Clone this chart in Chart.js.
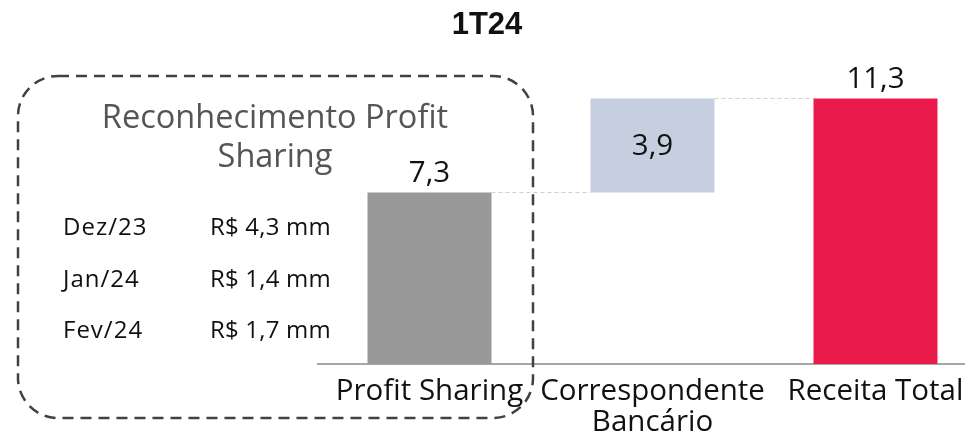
<!DOCTYPE html>
<html><head><meta charset="utf-8">
<script src="https://cdn.jsdelivr.net/npm/chart.js@4.4.1/dist/chart.umd.min.js"></script>
<style>html,body{margin:0;padding:0;background:#fff;overflow:hidden;width:965px;height:434px}#wrap{width:990px;height:434px}</style>
</head><body><div id="wrap"><canvas id="c" width="990" height="434"></canvas></div>
<script>
const chartTitle = '1T24';
const categories = ['Profit Sharing', ['Correspondente','Bancário'], 'Receita Total'];
const barBottoms = [0, 7.3, 0];
const barTops = [7.3, 11.3, 11.3];
const valueLabels = ['7,3', '3,9', '11,3'];
const barColors = ['#999999', '#C5CFE0', '#EA1B4B'];
const boxTitle = ['Reconhecimento Profit', 'Sharing'];
const boxMonths = ['Dez/23', 'Jan/24', 'Fev/24'];
const boxAmounts = ['R$ 4,3 mm', 'R$ 1,4 mm', 'R$ 1,7 mm'];
const FONT = "'Open Sans', sans-serif";

const overlay = {
  id: 'overlay',
  afterDatasetsDraw(chart) {
    const ctx = chart.ctx;
    const meta = chart.getDatasetMeta(0);
    const els = meta.data;
    ctx.save();
    // connectors
    ctx.strokeStyle = '#cfcfcf';
    ctx.lineWidth = 1;
    ctx.setLineDash([4, 3]);
    for (let i = 0; i < els.length - 1; i++) {
      const a = els[i], b = els[i + 1];
      ctx.beginPath();
      ctx.moveTo(a.x + a.width / 2, Math.round(a.y) + 0.5);
      ctx.lineTo(b.x - b.width / 2, Math.round(a.y) + 0.5);
      ctx.stroke();
    }
    ctx.setLineDash([]);
    // value labels
    ctx.fillStyle = '#111';
    ctx.font = '29.5px ' + FONT;
    ctx.textAlign = 'center';
    els.forEach((el, i) => {
      if (i === 1) {
        ctx.textBaseline = 'middle';
        ctx.fillText(valueLabels[i], el.x, (el.y + el.base) / 2 + 1);
      } else {
        ctx.textBaseline = 'alphabetic';
        ctx.fillText(valueLabels[i], el.x, el.y - 10);
      }
    });
    ctx.restore();
  },
  afterDraw(chart) {
    const ctx = chart.ctx;
    ctx.save();
    // title
    ctx.fillStyle = '#111';
    ctx.font = "bold 31px 'Liberation Sans', Arial, sans-serif";
    ctx.textAlign = 'center';
    ctx.textBaseline = 'middle';
    ctx.fillText(chartTitle, 487, 25);
    // dashed rounded box
    ctx.strokeStyle = '#3f4148';
    ctx.lineWidth = 2.5;
    ctx.setLineDash([11, 7]);
    ctx.beginPath();
    ctx.roundRect(18, 76, 515, 342, 40);
    ctx.stroke();
    ctx.setLineDash([]);
    // box title
    ctx.fillStyle = '#555555';
    ctx.font = '32.5px ' + FONT;
    ctx.textAlign = 'center';
    ctx.textBaseline = 'middle';
    ctx.fillText(boxTitle[0], 275, 119);
    ctx.fillText(boxTitle[1], 275, 158);
    // rows
    ctx.fillStyle = '#111';
    ctx.font = '24px ' + FONT;
    ctx.textAlign = 'left';
    const rowsY = [228, 280, 331];
    boxMonths.forEach((m, i) => {
      ctx.letterSpacing = '1px';
      ctx.fillText(m, 63, rowsY[i]);
      ctx.letterSpacing = '0.2px';
      ctx.fillText(boxAmounts[i], 210, rowsY[i]);
    });
    ctx.letterSpacing = '0px';
    ctx.restore();
  }
};

new Chart(document.getElementById('c'), {
  type: 'bar',
  data: {
    labels: categories,
    datasets: [{
      data: barBottoms.map((b, i) => [b, barTops[i]]),
      backgroundColor: barColors,
      borderWidth: 0,
      barPercentage: 0.556,
      categoryPercentage: 1.0
    }]
  },
  options: {
    responsive: false,
    animation: false,
    devicePixelRatio: 1,
    layout: { padding: { left: 318, right: 3, top: 82, bottom: 0 } },
    plugins: {
      legend: { display: false },
      tooltip: { enabled: false },
      title: { display: false }
    },
    scales: {
      x: {
        grid: { display: false, drawTicks: false },
        border: { display: true, color: '#a6a6a6', width: 2 },
        ticks: { color: '#111', font: { family: FONT, size: 29.5, lineHeight: 1.02 }, padding: 13, maxRotation: 0, autoSkip: false },
        afterFit(scale) { scale.height = 70; }
      },
      y: {
        display: false,
        min: 0,
        max: 12
      }
    }
  },
  plugins: [overlay]
});
</script>
</body></html>
